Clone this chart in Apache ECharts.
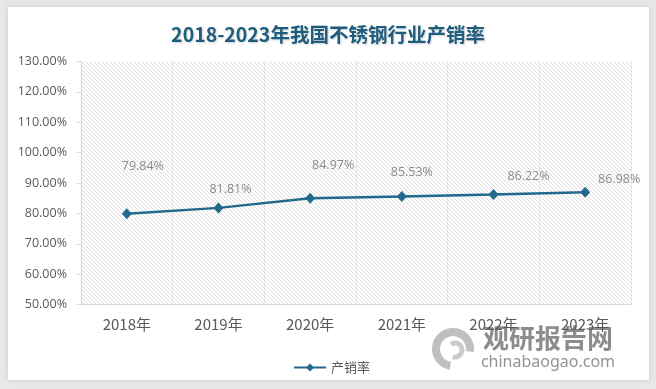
<!DOCTYPE html>
<html><head><meta charset="utf-8">
<script src="https://cdn.jsdelivr.net/npm/echarts@6/dist/echarts.min.js"></script>
<style>
html,body{margin:0;padding:0;width:656px;height:389px;background:#e8e8e8;overflow:hidden}
#card{position:absolute;left:8px;top:7px;width:641px;height:373px;background:#fff;box-shadow:0 0 6px rgba(0,0,0,0.13)}
#main{position:absolute;left:0;top:0;width:656px;height:389px}
</style></head><body><div id="card"></div><div id="main"></div>
<script>
const titleText = '2018-2023年我国不锈钢行业产销率';
const categories = ['2018年','2019年','2020年','2021年','2022年','2023年'];
const seriesName = '产销率';
const salesRate = [79.84, 81.81, 84.97, 85.53, 86.22, 86.98];
const yMin = 50, yMax = 130, yStep = 10;
const labelOffsets = [[16,-47],[12,-18],[23,-33],[10,-24],[35,-18],[34,-13]];

// hatch pattern
const pc = document.createElement('canvas');
pc.width = 4; pc.height = 4;
const g = pc.getContext('2d');
g.fillStyle = '#ffffff'; g.fillRect(0,0,4,4);
g.strokeStyle = '#dcdcdc'; g.lineWidth = 1;
g.beginPath(); g.moveTo(-1,-1); g.lineTo(5,5); g.stroke();
g.beginPath(); g.moveTo(-1,3); g.lineTo(1,5); g.stroke();
g.beginPath(); g.moveTo(3,-1); g.lineTo(5,1); g.stroke();

const chart = echarts.init(document.getElementById('main'), null, {renderer:'canvas'});
const lineColor = '#21698d';
chart.setOption({
  animation:false,
  title:{text:titleText,left:'center',top:20,
    textStyle:{fontFamily:'"Noto Sans CJK SC","Noto Sans",sans-serif',fontSize:19.5,fontWeight:'bold',color:'#1f5d7e',
      textShadowColor:'rgba(0,0,0,0.18)',textShadowBlur:2,textShadowOffsetX:1,textShadowOffsetY:1}},
  grid:{left:81,top:61.5,width:550,height:243,show:true,borderWidth:0,
    backgroundColor:{image:pc,repeat:'repeat'}},
  legend:{data:[seriesName],left:288,top:356,itemWidth:32,itemHeight:10,itemGap:4,
    textStyle:{fontFamily:'"Noto Sans CJK SC",sans-serif',fontSize:13,color:'#595959'}},
  xAxis:{type:'category',data:categories,boundaryGap:true,
    axisLine:{lineStyle:{color:'#d9d9d9',width:1}},axisTick:{show:false},
    splitLine:{show:true,lineStyle:{color:'#e6e6e6',width:1}},
    axisLabel:{margin:12,fontFamily:'"Noto Sans CJK SC","Noto Sans",sans-serif',fontSize:15,color:'#595959'}},
  yAxis:{type:'value',min:yMin,max:yMax,interval:yStep,
    axisLine:{show:true,lineStyle:{color:'#d9d9d9'}},
    axisTick:{show:true,length:4,lineStyle:{color:'#d9d9d9'}},
    splitLine:{show:false},
    axisLabel:{margin:14,fontFamily:'"Open Sans",sans-serif',fontSize:12.5,color:'#595959',
      formatter:v=>v.toFixed(2)+'%'}},
  series:[{name:seriesName,type:'line',
    data:salesRate.map((v,i)=>({value:v,label:{offset:labelOffsets[i]}})),
    symbol:'diamond',symbolSize:[10,11],
    lineStyle:{color:lineColor,width:2.5},
    itemStyle:{color:lineColor},
    label:{show:true,position:'inside',fontFamily:'"Open Sans",sans-serif',fontSize:12.5,color:'#8c8c8c',
      formatter:p=>p.value.toFixed(2)+'%'}
  }],
  graphic:[
    {type:'group',z:100,children:[
      {type:'arc',shape:{cx:453,cy:349,r:17,startAngle:Math.PI*0.55,endAngle:Math.PI*2.05},
        style:{stroke:'#b8b8b8',lineWidth:8,fill:null,opacity:0.9}},
      {type:'arc',shape:{cx:455,cy:350,r:7,startAngle:Math.PI*1.3,endAngle:Math.PI*2.6},
        style:{stroke:'#c4c4c4',lineWidth:5,fill:null,opacity:0.9}},
      {type:'text',style:{text:'观研报告网',x:548,y:338,align:'center',verticalAlign:'middle',
        font:'bold 26px "Noto Sans CJK SC",sans-serif',fill:'rgba(128,128,128,0.9)'}},
      {type:'text',style:{text:'chinabaogao.com',x:548,y:362,align:'center',verticalAlign:'middle',
        font:'16px "Noto Sans",sans-serif',fill:'rgba(140,140,140,0.95)'}}
    ]}
  ]
});
</script></body></html>
